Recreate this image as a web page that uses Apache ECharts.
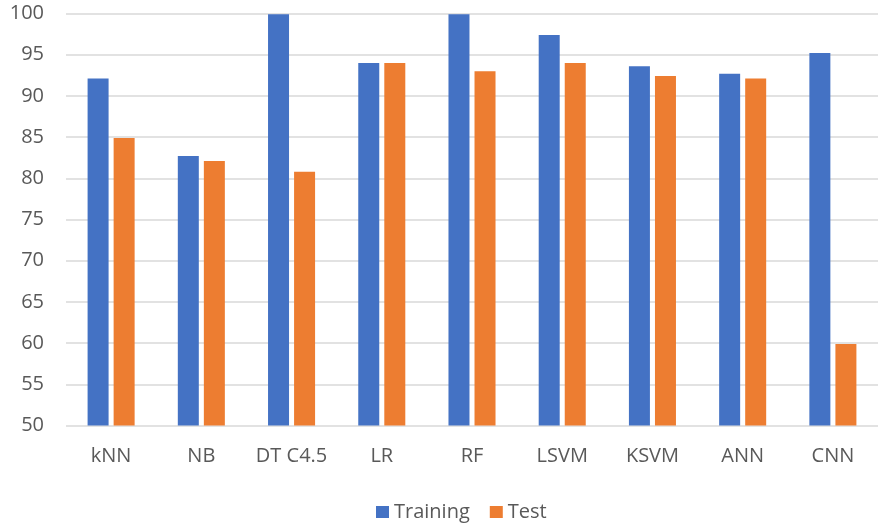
<!DOCTYPE html>
<html>
<head>
<meta charset="utf-8">
<script src="https://cdn.jsdelivr.net/npm/echarts@6/dist/echarts.min.js"></script>
<style>
  html, body { margin: 0; padding: 0; background: #fff; }
  #main { width: 880px; height: 524px; }
</style>
</head>
<body>
<div id="main"></div>
<script>
// 各模型准确率
const categories = ['kNN', 'NB', 'DT C4.5', 'LR', 'RF', 'LSVM', 'KSVM', 'ANN', 'CNN']
const training = [92.1, 82.7, 99.9, 94.0, 99.9, 97.4, 93.6, 92.7, 95.2]
const test = [84.9, 82.1, 80.8, 94.0, 93.0, 94.0, 92.4, 92.1, 59.9]
const yTicks = [50, 55, 60, 65, 70, 75, 80, 85, 90, 95, 100]

const font = '"Open Sans", "Noto Sans", sans-serif'

const myChart = echarts.init(document.getElementById('main'))
myChart.setOption({
  animation: false,
  color: ['#4472C4', '#ED7D31'],
  grid: { left: 66, right: 2, top: 13.5, bottom: 98.5, containLabel: false },
  legend: {
    data: ['Training', 'Test'],
    top: 497,
    left: 371,
    padding: 5,
    itemWidth: 13,
    itemHeight: 12,
    itemGap: 20,
    icon: 'rect',
    textStyle: { color: '#595959', fontSize: 20, fontFamily: font }
  },
  xAxis: {
    type: 'category',
    data: categories,
    axisLine: { show: false },
    axisTick: { show: false },
    axisLabel: { interval: 0, color: '#595959', fontSize: 20, fontFamily: font, margin: 21 }
  },
  yAxis: {
    type: 'value',
    min: yTicks[0],
    max: yTicks[yTicks.length - 1],
    interval: 5,
    axisLine: { show: false },
    axisTick: { show: false },
    axisLabel: { color: '#595959', fontSize: 20, fontFamily: font, margin: 22 },
    splitLine: { lineStyle: { color: '#D9D9D9', width: 1.5 } }
  },
  series: [
    { name: 'Training', type: 'bar', data: training, barWidth: 21, barGap: '24%' },
    { name: 'Test', type: 'bar', data: test, barWidth: 21, barGap: '24%' }
  ]
})
</script>
</body>
</html>
